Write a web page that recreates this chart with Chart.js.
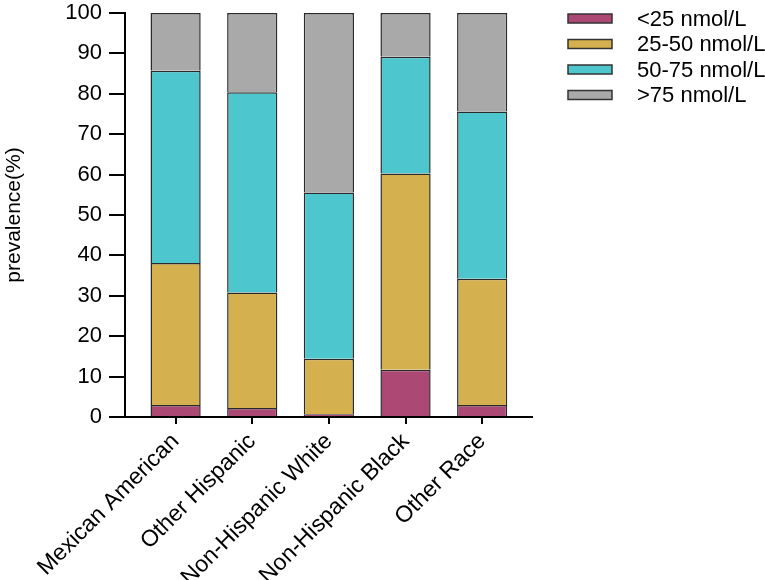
<!DOCTYPE html>
<html lang="en">
  <head>
    <meta charset="UTF-8" />
    <title>Vitamin D prevalence by race</title>
    <script src="https://cdn.jsdelivr.net/npm/chart.js"></script>
    <style>
      body {
        margin: 0;
        padding: 0;
        background: #fff;
      }
      #wrap {
        width: 765px;
        height: 580px;
      }
    </style>
  </head>
  <body>
    <div id="wrap"><canvas id="prevChart"></canvas></div>

    <script>
      const groups = ["Mexican American", "Other Hispanic", "Non-Hispanic White", "Non-Hispanic Black", "Other Race"];
      const below25 = [3.0, 2.2, 0.7, 11.7, 3.0];
      const from25to50 = [35.1, 28.6, 13.7, 48.6, 31.2];
      const from50to75 = [47.6, 49.6, 41.2, 28.9, 41.4];
      const above75 = [14.3, 19.6, 44.4, 10.8, 24.4];
      const seriesNames = ["<25 nmol/L", "25-50 nmol/L", "50-75 nmol/L", ">75 nmol/L"];
      const seriesColors = ["#ab4874", "#d4b04e", "#4dc6ce", "#a9a9a9"];

      const font = "'Liberation Sans', Arial, sans-serif";
      Chart.defaults.font.family = font;
      Chart.defaults.color = "#000";

      function toPoints(arr) {
        return arr.map((v, i) => ({ x: i, y: v }));
      }

      // legend drawn next to the plot, boxes then labels
      const sideLegend = {
        id: "sideLegend",
        afterDraw(chart) {
          const ctx = chart.ctx;
          const x0 = chart.chartArea.right + 36;
          ctx.save();
          ctx.font = "22px " + font;
          ctx.textBaseline = "middle";
          chart.data.datasets.forEach((ds, i) => {
            const cy = 18.5 + i * 25.5;
            ctx.fillStyle = ds.backgroundColor;
            ctx.strokeStyle = "#333";
            ctx.lineWidth = 1.5;
            ctx.fillRect(x0, cy - 4.5, 44, 9);
            ctx.strokeRect(x0, cy - 4.5, 44, 9);
            ctx.fillStyle = "#000";
            ctx.fillText(ds.label, x0 + 69, cy + 1);
          });
          ctx.restore();
        },
      };

      const datasets = [below25, from25to50, from50to75, above75].map((arr, i) => ({
        label: seriesNames[i],
        data: toPoints(arr),
        backgroundColor: seriesColors[i],
        borderColor: "#2a2a2a",
        borderWidth: 1.5,
        barPercentage: 1,
        categoryPercentage: 0.655,
      }));

      new Chart(document.getElementById("prevChart"), {
        type: "bar",
        data: { datasets: datasets },
        plugins: [sideLegend],
        options: {
          responsive: true,
          maintainAspectRatio: false,
          animation: false,
          layout: { padding: { top: 13, right: 233, left: 0, bottom: 0 } },
          plugins: {
            legend: { display: false },
            tooltip: { enabled: false },
          },
          scales: {
            x: {
              type: "linear",
              stacked: true,
              offset: false,
              min: -0.66,
              max: 4.65,
              afterBuildTicks: (s) => {
                s.ticks = groups.map((_, i) => ({ value: i }));
              },
              afterFit: (s) => {
                s.height = 163;
              },
              ticks: {
                callback: (v) => groups[v],
                autoSkip: false,
                maxRotation: 45,
                minRotation: 45,
                font: { size: 23 },
                padding: 4,
              },
              grid: {
                offset: false,
                drawOnChartArea: false,
                tickLength: 7,
                color: "#000",
                lineWidth: 2,
              },
              border: { color: "#000", width: 2 },
            },
            y: {
              stacked: true,
              min: 0,
              max: 100,
              afterFit: (s) => {
                s.width = 125;
                s.paddingTop = 0;
                s.paddingBottom = 0;
              },
              ticks: { stepSize: 10, font: { size: 22 }, padding: 7 },
              grid: {
                drawOnChartArea: false,
                tickLength: 16,
                color: "#000",
                lineWidth: 2,
              },
              border: { color: "#000", width: 2 },
              title: {
                display: true,
                text: "prevalence(%)",
                font: { size: 21 },
                padding: { top: 2, bottom: 0 },
              },
            },
          },
        },
      });
    </script>
  </body>
</html>
